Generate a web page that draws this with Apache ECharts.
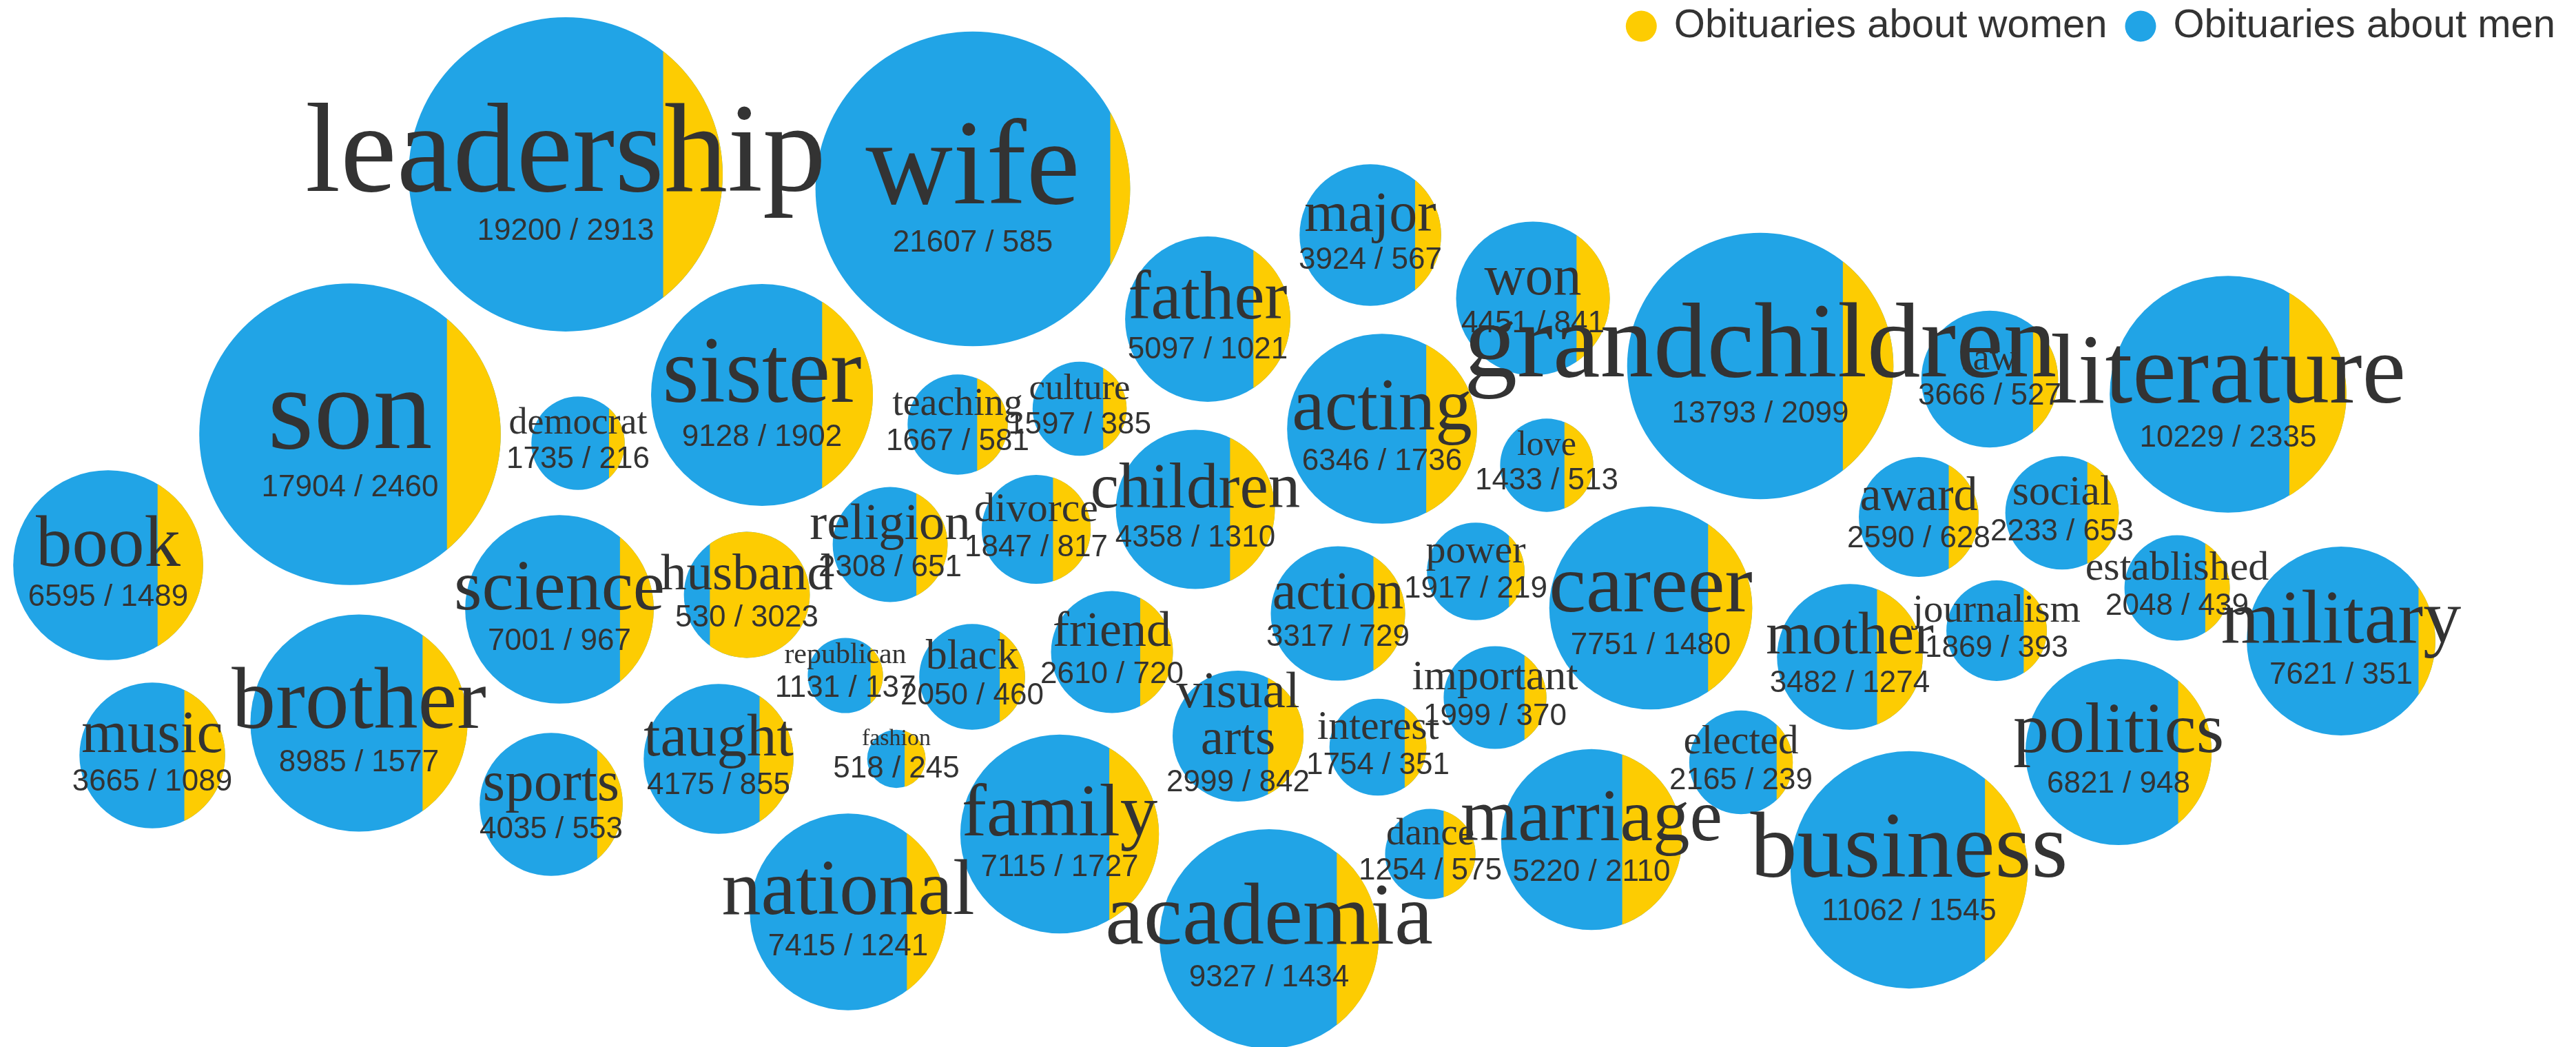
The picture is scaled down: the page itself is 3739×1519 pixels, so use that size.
<!DOCTYPE html>
<html>
<head>
<meta charset="utf-8">
<title>Words in obituaries: men and women</title>
<script src="https://cdn.jsdelivr.net/npm/echarts/dist/echarts.min.js"></script>
<style>
  html, body { margin: 0; padding: 0; background: #ffffff; }
  #chart { width: 3739px; height: 1519px; }
</style>
</head>
<body>
<div id="chart"></div>
<script>
// Terms and how often they appear in obituaries about men and about women
const terms = [
  'leadership', 'wife', 'son', 'democrat', 'sister', 'teaching', 'culture', 'father', 'major', 'won',
  'acting', 'love', 'grandchildren', 'law', 'literature', 'book', 'science', 'husband', 'religion', 'divorce',
  'children', 'power', 'career', 'award', 'social', 'established', 'military', 'action', 'mother', 'journalism',
  'republican', 'black', 'friend', 'important', 'music', 'brother', 'taught', 'visual\narts', 'interest', 'elected',
  'politics', 'sports', 'fashion', 'family', 'dance', 'marriage', 'national', 'academia', 'business'
];
const menCounts = [
  19200, 21607, 17904, 1735, 9128, 1667, 1597, 5097, 3924, 4451,
  6346, 1433, 13793, 3666, 10229, 6595, 7001, 530, 2308, 1847,
  4358, 1917, 7751, 2590, 2233, 2048, 7621, 3317, 3482, 1869,
  1131, 2050, 2610, 1999, 3665, 8985, 4175, 2999, 1754, 2165,
  6821, 4035, 518, 7115, 1254, 5220, 7415, 9327, 11062
];
const womenCounts = [
  2913, 585, 2460, 216, 1902, 581, 385, 1021, 567, 841,
  1736, 513, 2099, 527, 2335, 1489, 967, 3023, 651, 817,
  1310, 219, 1480, 628, 653, 439, 351, 729, 1274, 393,
  137, 460, 720, 370, 1089, 1577, 855, 842, 351, 239,
  948, 553, 245, 1727, 575, 2110, 1241, 1434, 1545
];

// Packed-bubble layout: centre of each bubble on the hidden x / y scales
const layoutX = [
  821, 1412, 508, 839, 1106, 1390, 1567, 1753, 1989, 2225,
  2006, 2245, 2555, 2888, 3234, 157, 812, 1084, 1292, 1504,
  1735, 2142, 2396, 2785, 2993, 3160, 3398, 1942, 2685, 2898,
  1227, 1411, 1614, 2170, 221, 521, 1043, 1797, 2000, 2527,
  3075, 800, 1301, 1538, 2076, 2310, 1231, 1842, 2771
];
const layoutY = [
  253, 274, 630, 643, 573, 616, 593, 463, 341, 433,
  622, 675, 531, 550, 572, 820, 884, 863, 790, 768,
  739, 829, 882, 750, 744, 853, 930, 890, 953, 915,
  980, 982, 946, 1012, 1096, 1049, 1101, 1068, 1084, 1106,
  1091, 1167, 1101, 1210, 1239, 1218, 1323, 1362, 1262
];

// Type size of each term (px)
const labelSize = [
  184, 175, 172, 54, 137, 56, 53, 99, 82, 82,
  107, 50, 155, 55, 143, 105, 104, 75, 75, 60,
  93, 58, 121, 70, 62, 60, 110, 78, 86, 57,
  42, 62, 72, 62, 86, 128, 87, 75, 60, 59,
  104, 83, 34, 109, 55, 107, 114, 126, 136
];

const SURFACE_W = 3739, SURFACE_H = 1519;
const BLUE = '#21a4e6', YELLOW = '#fdcc02', INK = '#333333';
const RADIUS_PER_SQRT = 1.533;   // bubble area is proportional to the total count
const COUNT_FONT = 44;

const rows = terms.map((t, i) => [layoutX[i], layoutY[i], menCounts[i], womenCounts[i], i]);

// Offset of a vertical chord from the centre so that the slice to its right
// holds `frac` of the disc's area.
function chordOffset(frac, r) {
  let lo = -r, hi = r;
  for (let k = 0; k < 60; k++) {
    const d = (lo + hi) / 2;
    const a = (r * r * Math.acos(d / r) - d * Math.sqrt(r * r - d * d)) / (Math.PI * r * r);
    if (a > frac) lo = d; else hi = d;
  }
  return (lo + hi) / 2;
}

function bubbleGeom(api) {
  const c = api.coord([api.value(0), api.value(1)]);
  const s = api.size([1, 1])[0];
  const m = api.value(2), w = api.value(3);
  const r = RADIUS_PER_SQRT * Math.sqrt(m + w) * s;
  return { cx: c[0], cy: c[1], r, s, m, w };
}

const chart = echarts.init(document.getElementById('chart'), null, { renderer: 'canvas' });

chart.setOption({
  animation: false,
  backgroundColor: '#ffffff',
  grid: { left: 0, right: 0, top: 0, bottom: 0 },
  xAxis: { type: 'value', min: 0, max: SURFACE_W, show: false },
  yAxis: { type: 'value', min: 0, max: SURFACE_H, inverse: true, show: false },
  legend: {
    data: ['Obituaries about women', 'Obituaries about men'],
    right: 25,
    top: 4,
    icon: 'circle',
    itemWidth: 45,
    itemHeight: 45,
    itemGap: 26,
    selectedMode: false,
    textStyle: {
      fontFamily: '"Liberation Sans", Arial, sans-serif',
      fontSize: 58,
      color: INK,
      padding: [0, 0, 0, 20]
    }
  },
  series: [
    {
      name: 'Obituaries about men',
      type: 'custom',
      z: 2,
      color: BLUE,
      itemStyle: { color: BLUE },
      data: rows,
      renderItem: function (params, api) {
        const g = bubbleGeom(api);
        return { type: 'circle', shape: { cx: g.cx, cy: g.cy, r: g.r }, style: { fill: BLUE } };
      }
    },
    {
      name: 'Obituaries about women',
      type: 'custom',
      z: 3,
      color: YELLOW,
      itemStyle: { color: YELLOW },
      data: rows,
      renderItem: function (params, api) {
        const g = bubbleGeom(api);
        const frac = g.w / (g.m + g.w);
        const d = chordOffset(frac, g.r);
        const t0 = Math.acos(d / g.r);
        const pts = [];
        const n = 120;
        for (let k = 0; k <= n; k++) {
          const t = -t0 + (2 * t0 * k) / n;
          pts.push([g.cx + g.r * Math.cos(t), g.cy + g.r * Math.sin(t)]);
        }
        return { type: 'polygon', shape: { points: pts }, style: { fill: YELLOW } };
      }
    },
    {
      name: 'labels',
      type: 'custom',
      z: 4,
      silent: true,
      data: rows,
      renderItem: function (params, api) {
        const g = bubbleGeom(api);
        const i = api.value(4);
        const fs = labelSize[i] * g.s;
        const word = terms[i];
        const lines = word.split('\n').length;
        const lh = 0.9 * fs;
        const wordMid = g.cy - 30 * g.s + 0.03 * fs;
        const lastBase = wordMid + (lines - 1) * lh / 2 + 0.32 * fs;
        const countMid = lastBase + 30 * g.s + 0.1 * fs;
        return {
          type: 'group',
          children: [
            {
              type: 'text',
              style: {
                text: word,
                x: g.cx,
                y: wordMid,
                align: 'center',
                verticalAlign: 'middle',
                fontFamily: '"Liberation Serif", "Times New Roman", serif',
                fontSize: fs,
                lineHeight: lh,
                fill: INK
              }
            },
            {
              type: 'text',
              style: {
                text: g.m + ' / ' + g.w,
                x: g.cx,
                y: countMid,
                align: 'center',
                verticalAlign: 'middle',
                fontFamily: '"Liberation Sans", Arial, sans-serif',
                fontSize: COUNT_FONT * g.s,
                fill: INK
              }
            }
          ]
        };
      }
    }
  ]
});
</script>
</body>
</html>
